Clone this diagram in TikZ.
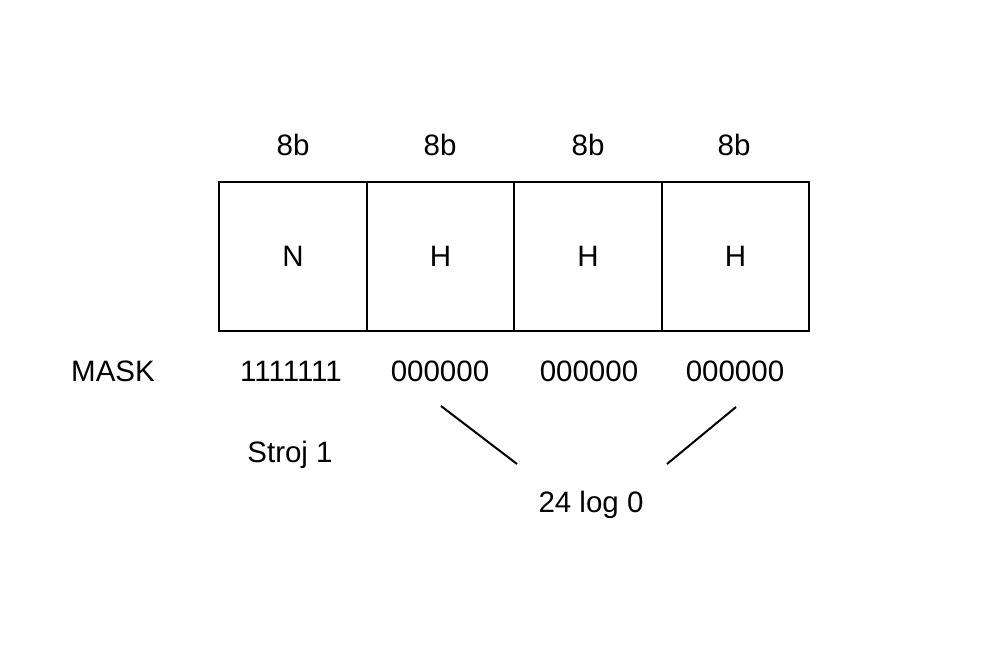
\documentclass[tikz,border=0pt]{standalone}
\usepackage{fontspec}
\setmainfont{Liberation Sans}
\begin{document}
\begin{tikzpicture}[x=1pt,y=-1pt,
  cell/.style={draw,line width=2pt,minimum width=147.5pt,minimum height=149pt,inner sep=0pt,font=\fontsize{29.5}{34}\selectfont},
  lbl/.style={inner sep=0pt,font=\fontsize{29.5}{34}\selectfont},
  conn/.style={line width=2pt}]
\useasboundingbox (0,0) rectangle (1000,658);
\node[cell] (c1) at (293,256.5) {N};
\node[cell] (c2) at (440.5,256.5) {H};
\node[cell] (c3) at (588,256.5) {H};
\node[cell] (c4) at (735.5,256.5) {H};
\node[lbl] (b1) at (293,145) {8b};
\node[lbl] (b2) at (440,145) {8b};
\node[lbl] (b3) at (588,145) {8b};
\node[lbl] (b4) at (734,145) {8b};
\node[lbl] (mask) at (113,371) {MASK};
\node[lbl] (m1) at (291,371) {1111111};
\node[lbl] (m2) at (440,371) {000000};
\node[lbl] (m3) at (589,371) {000000};
\node[lbl] (m4) at (735,371) {000000};
\node[lbl] (stroj) at (290,455) {Stroj 1};
\node[lbl] (zero) at (591,505) {24 log 0};
\coordinate (a1) at (441,406);
\coordinate (a2) at (517,464);
\coordinate (d1) at (736,407);
\coordinate (d2) at (667,464);
\draw[conn] (a1) -- (a2);
\draw[conn] (d1) -- (d2);
\end{tikzpicture}
\end{document}
